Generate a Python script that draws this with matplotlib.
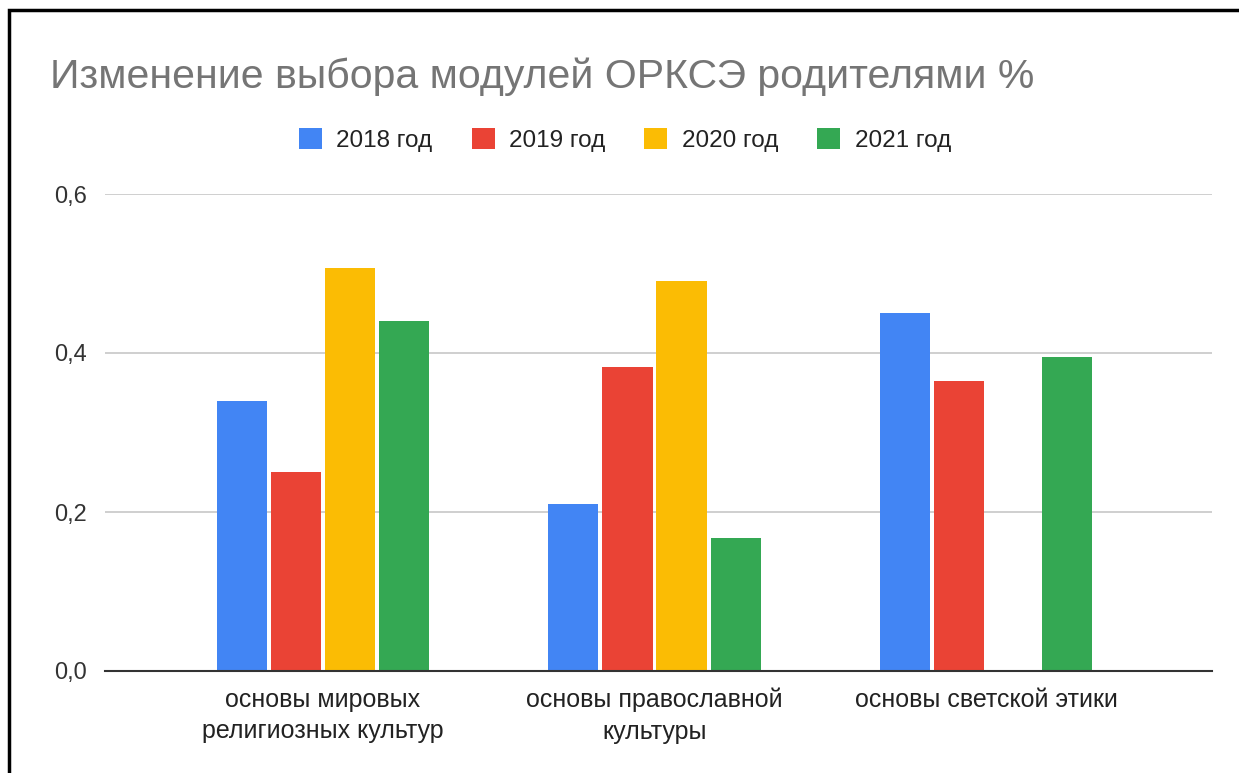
import matplotlib
matplotlib.use("Agg")
import matplotlib.pyplot as plt
from matplotlib.patches import Rectangle
from matplotlib.ticker import FixedLocator
import numpy as np

plt.rcParams['font.family'] = ['Liberation Sans', 'DejaVu Sans']

categories = ["основы мировых\nрелигиозных культур", "основы православной\nкультуры", "основы светской этики"]
series_names = ["2018 год", "2019 год", "2020 год", "2021 год"]
v2018 = [0.34, 0.21, 0.45]
v2019 = [0.25, 0.383, 0.365]
v2020 = [0.507, 0.49, 0.0]
v2021 = [0.44, 0.167, 0.395]
yticks = [0.0, 0.2, 0.4, 0.6]
ytick_labels = ["0,0", "0,2", "0,4", "0,6"]
title = "Изменение выбора модулей ОРКСЭ родителями %"
colors = ["#4285F4", "#EA4335", "#FBBC04", "#34A853"]

W, H = 1239, 773
fig = plt.figure(figsize=(W/100, H/100), dpi=100)
ax = fig.add_axes([105/W, 1-671/H, (1212-105)/W, (671-194)/H])

x = np.arange(len(categories))
step = 0.163
width = 0.151
data = [v2018, v2019, v2020, v2021]
handles = []
for i, (vals, c, name) in enumerate(zip(data, colors, series_names)):
    b = ax.bar(x + (i-1.5)*step, vals, width=width, color=c, label=name, zorder=3)
    handles.append(b)

ax.set_xlim((105-323)/331.5, (1212-323)/331.5)
ax.set_ylim(0, 0.6)
ax.yaxis.set_major_locator(FixedLocator(yticks))
ax.set_yticklabels(ytick_labels)
ax.set_xticks(x)
ax.set_xticklabels(categories, linespacing=1.4)
ax.tick_params(axis='x', length=0, labelsize=18, labelcolor="#222222", pad=12)
ax.tick_params(axis='y', length=0, labelsize=17, labelcolor="#333333", pad=13)
ax.grid(axis='y', color="#cccccc", linewidth=1.3, zorder=0)
for s in ["top", "right", "left"]:
    ax.spines[s].set_visible(False)
ax.spines["bottom"].set_color("#333333")
ax.spines["bottom"].set_linewidth(1.5)
ax.spines["bottom"].set_zorder(4)

fig.text(50/W, 1-77/H, title, fontsize=29.5, color="#757575", va="center", ha="left")

leg = fig.legend(handles=handles, labels=series_names, loc="center", bbox_to_anchor=(625/W, 1-140/H),
                 ncol=4, frameon=False, fontsize=17.5, handlelength=0.95, handleheight=0.95,
                 columnspacing=1.6, handletextpad=0.6)
for t in leg.get_texts():
    t.set_color("#222222")

fig.patches.append(Rectangle((9/W, -0.1), 1.2, 1.1 - 10/H, transform=fig.transFigure,
                             fill=False, edgecolor="black", linewidth=2.5, zorder=10))

fig.savefig("out.png", dpi=100)
